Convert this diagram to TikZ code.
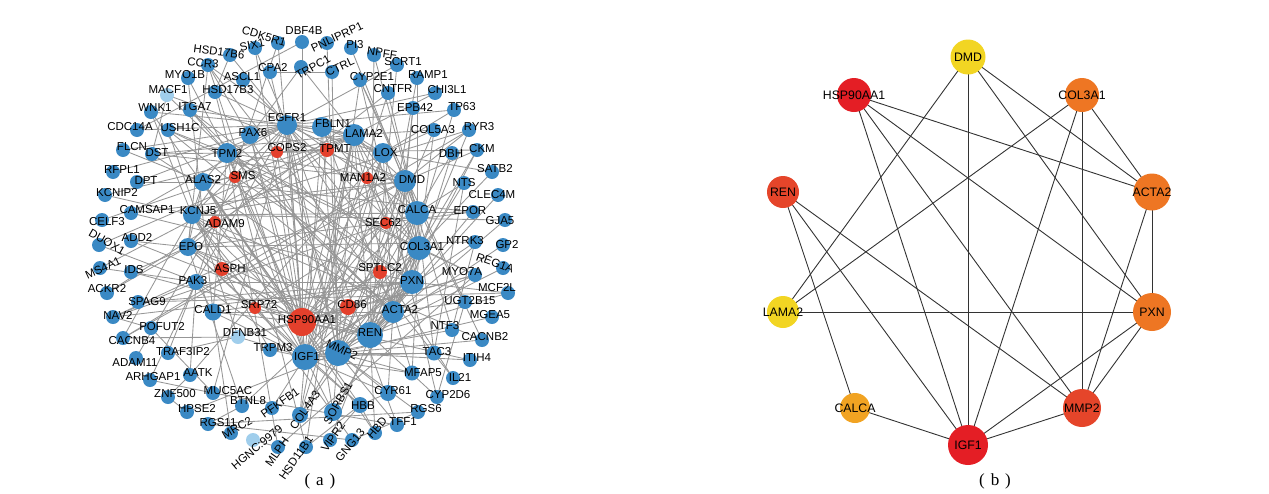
\documentclass[tikz,border=0pt]{standalone}
\usepackage{fontspec}
\setmainfont{Liberation Sans}
\newfontfamily\capfont{Liberation Serif}
\definecolor{nblue}{RGB}{58,137,196}
\definecolor{nred}{RGB}{228,64,44}
\definecolor{nlight}{RGB}{160,206,236}
\definecolor{egray}{RGB}{150,150,150}
\definecolor{byel}{RGB}{242,213,35}
\definecolor{bred}{RGB}{228,30,37}
\definecolor{bora}{RGB}{238,118,35}
\definecolor{brora}{RGB}{229,69,42}
\definecolor{bamb}{RGB}{241,163,34}
\pgfdeclarelayer{bg}
\pgfdeclarelayer{fg}
\pgfsetlayers{bg,main,fg}
\tikzset{
 nb/.style={circle,inner sep=0pt,minimum size=14,fill=nblue},
 nr/.style={circle,inner sep=0pt,minimum size=13,fill=nred},
 nl/.style={circle,inner sep=0pt,minimum size=14,fill=nlight},
 lbl/.style={inner sep=0pt,font=\fontsize{11.5}{13}\selectfont},
 edge/.style={draw=egray,line width=0.85},
 bedge/.style={draw=black!80,line width=0.9},
 bn/.style={circle,inner sep=0pt},
 blbl/.style={inner sep=0pt,font=\fontsize{12.3}{14}\selectfont},
 figcap/.style={inner sep=0pt,font=\capfont\fontsize{17}{19}\selectfont}
}
\newcommand\G[8]{\node[#4] (#1) at (#2,#3) {};
 \begin{pgfonlayer}{fg}\node[lbl,rotate=#7] (#1t) at (#5,#6) {#8};\end{pgfonlayer}}
\newcommand\B[6]{\node[bn,minimum size=#4,fill=#5] (#1) at (#2,#3) {};
 \begin{pgfonlayer}{fg}\node[blbl] (#1t) at (#2,#3) {#6};\end{pgfonlayer}}
\begin{document}
\begin{tikzpicture}[x=1pt,y=-1pt]
\path[use as bounding box] (0,0) rectangle (1269,493);
% ---------- (a) nodes ----------
\G{DBF4B}{302}{42}{nb}{304}{31}{0}{DBF4B}
\G{CDK5R1}{278}{43}{nb}{264}{36}{-17}{CDK5R1}
\G{PNLIPRP1}{327}{43}{nb}{337}{37}{25}{PNLIPRP1}
\G{SIX1}{255}{48}{nb}{252}{45}{12}{SIX1}
\G{HSD17B6}{230}{55}{nb}{219}{52}{-7}{HSD17B6}
\G{PI3}{351}{48}{nb}{355}{45}{0}{PI3}
\G{NPFF}{374}{55}{nb}{382}{53}{-8}{NPFF}
\G{CCR3}{208}{65}{nb}{203}{63}{-5}{CCR3}
\G{TRPC1}{301}{67}{nb}{313}{67}{30}{TRPC1}
\G{CTRL}{332}{72}{nb}{340}{67}{25}{CTRL}
\G{SCRT1}{397}{65}{nb}{403}{62}{0}{SCRT1}
\G{MYO1B}{188}{78}{nb}{185}{75}{0}{MYO1B}
\G{ASCL1}{243}{80}{nb}{242}{77}{0}{ASCL1}
\G{CPA2}{270}{72}{nb}{273}{68}{0}{CPA2}
\G{CYP2E1}{360}{80}{nb}{372}{77}{0}{CYP2E1}
\G{RAMP1}{417}{78}{nb}{428}{75}{0}{RAMP1}
\G{MACF1}{167}{95}{nl}{168}{90}{0}{MACF1}
\G{HSD17B3}{215}{92}{nb}{228}{90}{0}{HSD17B3}
\G{CNTFR}{388}{93}{nb}{393}{89}{0}{CNTFR}
\G{CHI3L1}{435}{93}{nb}{447}{90}{0}{CHI3L1}
\G{WNK1}{151}{112}{nb}{155}{108}{0}{WNK1}
\G{ITGA7}{190}{110}{nb}{195}{107}{0}{ITGA7}
\G{EPB42}{413}{108}{nb}{415}{107}{0}{EPB42}
\G{TP63}{454}{110}{nb}{462}{107}{0}{TP63}
\G{CDC14A}{137}{130}{nb}{130}{127}{0}{CDC14A}
\G{USH1C}{168}{130}{nb}{180}{128}{0}{USH1C}
\G{EGFR1}{287}{125}{nb,minimum size=20}{287}{118}{0}{EGFR1}
\G{FBLN1}{322}{127}{nb,minimum size=20}{333}{124}{0}{FBLN1}
\G{LAMA2}{354}{135}{nb,minimum size=22}{364}{133}{0}{LAMA2}
\G{COL5A3}{434}{130}{nb}{433}{130}{0}{COL5A3}
\G{RYR3}{469}{130}{nb}{479}{127}{0}{RYR3}
\G{PAX6}{250}{135}{nb,minimum size=18}{253}{133}{0}{PAX6}
\G{FLCN}{123}{150}{nb}{132}{147}{0}{FLCN}
\G{DST}{152}{154}{nb}{157}{153}{0}{DST}
\G{TPM2}{227}{153}{nb,minimum size=20}{227}{153}{0}{TPM2}
\G{COPS2}{277}{152}{nr,minimum size=12}{287}{148}{0}{COPS2}
\G{TPMT}{327}{150}{nr,minimum size=14}{335}{149}{0}{TPMT}
\G{LOX}{383}{153}{nb,minimum size=20}{386}{153}{0}{LOX}
\G{DBH}{452}{153}{nb}{451}{154}{0}{DBH}
\G{CKM}{477}{150}{nb}{482}{149}{0}{CKM}
\G{RFPL1}{113}{172}{nb}{122}{170}{0}{RFPL1}
\G{DPT}{137}{182}{nb}{146}{181}{0}{DPT}
\G{ALAS2}{203}{182}{nb,minimum size=18}{203}{180}{0}{ALAS2}
\G{SMS}{235}{177}{nr,minimum size=12}{243}{176}{0}{SMS}
\G{MAN1A2}{367}{178}{nr,minimum size=12}{363}{177}{0}{MAN1A2}
\G{DMD}{405}{181}{nb,minimum size=22}{412}{180}{0}{DMD}
\G{NTS}{464}{183}{nb}{464}{183}{0}{NTS}
\G{SATB2}{492}{172}{nb}{495}{169}{0}{SATB2}
\G{KCNIP2}{105}{195}{nb}{117}{193}{0}{KCNIP2}
\G{CAMSAP1}{131}{213}{nb}{147}{210}{0}{CAMSAP1}
\G{KCNJ5}{192}{215}{nb,minimum size=18}{198}{211}{0}{KCNJ5}
\G{CALCA}{417}{213}{nb,minimum size=24}{417}{210}{0}{CALCA}
\G{EPOR}{473}{212}{nb}{470}{211}{0}{EPOR}
\G{CLEC4M}{498}{195}{nb}{492}{195}{0}{CLEC4M}
\G{CELF3}{102}{220}{nb}{107}{222}{0}{CELF3}
\G{ADAM9}{215}{222}{nr,minimum size=12}{225}{224}{0}{ADAM9}
\G{SEC62}{386}{223}{nr,minimum size=12}{383}{223}{0}{SEC62}
\G{GJA5}{505}{220}{nb}{500}{221}{0}{GJA5}
\G{ADD2}{131}{241}{nb}{137}{237}{0}{ADD2}
\G{DUOX1}{99}{245}{nb}{107}{242}{-30}{DUOX1}
\G{EPO}{188}{247}{nb,minimum size=18}{191}{247}{0}{EPO}
\G{COL3A1}{419}{248}{nb,minimum size=24}{422}{247}{0}{COL3A1}
\G{NTRK3}{475}{242}{nb}{465}{241}{0}{NTRK3}
\G{GP2}{503}{245}{nb}{507}{245}{0}{GP2}
\G{MS4A1}{100}{268}{nb}{103}{268}{25}{MS4A1}
\G{IDS}{131}{272}{nb}{134}{270}{0}{IDS}
\G{PAK3}{196}{282}{nb,minimum size=16}{193}{281}{0}{PAK3}
\G{ASPH}{222}{269}{nr,minimum size=14}{230}{269}{0}{ASPH}
\G{SPTLC2}{380}{272}{nr,minimum size=14}{380}{268}{0}{SPTLC2}
\G{REG1A}{503}{268}{nb}{495}{263}{-20}{REG1A}
\G{ACKR2}{107}{293}{nb}{107}{289}{0}{ACKR2}
\G{MYO7A}{475}{275}{nb}{462}{272}{0}{MYO7A}
\G{PXN}{412}{282}{nb,minimum size=24}{412}{281}{0}{PXN}
\G{SPAG9}{138}{302}{nb}{147}{302}{0}{SPAG9}
\G{MCF2L}{508}{293}{nb}{497}{288}{0}{MCF2L}
\G{NAV2}{113}{317}{nb}{118}{315}{0}{NAV2}
\G{CALD1}{213}{312}{nb,minimum size=17}{213}{310}{0}{CALD1}
\G{SRP72}{255}{308}{nr,minimum size=12}{259}{305}{0}{SRP72}
\G{CD86}{348}{307}{nr,minimum size=16}{352}{305}{0}{CD86}
\G{ACTA2}{393}{312}{nb,minimum size=22}{400}{310}{0}{ACTA2}
\G{UGT2B15}{465}{302}{nb}{470}{301}{0}{UGT2B15}
\G{POFUT2}{151}{328}{nb}{162}{327}{0}{POFUT2}
\G{HSP90AA1}{302}{322}{nr,minimum size=28}{307}{320}{0}{HSP90AA1}
\G{DFNB31}{238}{337}{nl}{245}{333}{0}{DFNB31}
\G{REN}{370}{335}{nb,minimum size=26}{370}{333}{0}{REN}
\G{MGEA5}{492}{317}{nb}{490}{315}{0}{MGEA5}
\G{CACNB4}{123}{338}{nb}{132}{341}{0}{CACNB4}
\G{TRAF3IP2}{168}{353}{nb}{183}{352}{0}{TRAF3IP2}
\G{TRPM3}{270}{350}{nb}{273}{348}{0}{TRPM3}
\G{IGF1}{305}{357}{nb,minimum size=26}{307}{357}{0}{IGF1}
\G{MMP2}{338}{353}{nb,minimum size=26}{342}{350}{-25}{MMP2}
\G{NTF3}{452}{330}{nb}{445}{326}{0}{NTF3}
\G{CACNB2}{482}{340}{nb}{485}{337}{0}{CACNB2}
\G{ADAM11}{136}{358}{nb}{135}{363}{0}{ADAM11}
\G{ARHGAP1}{150}{380}{nb}{153}{377}{0}{ARHGAP1}
\G{AATK}{190}{375}{nb}{198}{373}{0}{AATK}
\G{TAC3}{434}{353}{nb,minimum size=15}{437}{352}{0}{TAC3}
\G{ITIH4}{470}{360}{nb}{477}{358}{0}{ITIH4}
\G{MFAP5}{412}{373}{nb,minimum size=15}{423}{373}{0}{MFAP5}
\G{IL21}{453}{378}{nb}{460}{377}{0}{IL21}
\G{ZNF500}{168}{397}{nb}{175}{394}{0}{ZNF500}
\G{MUC5AC}{213}{393}{nb}{228}{391}{0}{MUC5AC}
\G{BTNL8}{242}{406}{nb}{248}{401}{0}{BTNL8}
\G{CYR61}{388}{393}{nb,minimum size=16}{393}{391}{0}{CYR61}
\G{CYP2D6}{437}{397}{nb}{448}{395}{0}{CYP2D6}
\G{HPSE2}{187}{412}{nb}{197}{409}{0}{HPSE2}
\G{RGS11}{208}{424}{nb}{218}{423}{0}{RGS11}
\G{PFKFB1}{272}{408}{nb}{280}{403}{35}{PFKFB1}
\G{HBB}{360}{405}{nb,minimum size=16}{363}{406}{0}{HBB}
\G{RGS6}{418}{412}{nb}{426}{409}{0}{RGS6}
\G{MRC2}{231}{433}{nb}{237}{428}{30}{MRC2}
\G{HGNC}{253}{440}{nl}{257}{447}{40}{HGNC:9979}
\G{MLPH}{278}{447}{nb}{277}{452}{55}{MLPH}
\G{COL4A3}{300}{415}{nb,minimum size=16}{305}{410}{55}{COL4A3}
\G{SORBS1}{333}{412}{nb,minimum size=18}{338}{403}{60}{SORBS1}
\G{HSD11B1}{306}{447}{nb}{296}{458}{55}{HSD11B1}
\G{VIPR2}{330}{440}{nb}{333}{437}{55}{VIPR2}
\G{GNG13}{352}{440}{nb}{350}{445}{50}{GNG13}
\G{HBD}{375}{433}{nb}{377}{428}{50}{HBD}
\G{TFF1}{397}{425}{nb}{403}{422}{0}{TFF1}
% ---------- (a) edges ----------
\begin{pgfonlayer}{bg}
\foreach \b in {HSP90AA1,MMP2,REN,ACTA2,PXN,COL3A1,CALCA,DMD,LAMA2,EGFR1,EPO,KCNJ5,ALAS2,TPM2,PAK3,CALD1,CYR61,HBB,SORBS1,COL4A3,TAC3,MFAP5,NTF3,LOX,FBLN1,TRPM3,PFKFB1,CCR3,SIX1,PAX6}
 \draw[edge] (IGF1.center) -- (\b.center);
\foreach \b in {MMP2,REN,ACTA2,PXN,COL3A1,CALCA,DMD,LAMA2,EGFR1,TPM2,PAX6,CALD1,SRP72,CD86,ASPH,SPTLC2,SEC62,TPMT,COPS2,SMS,ADAM9,MAN1A2,PAK3,KCNJ5,ALAS2,EPO,CDK5R1,MYO7A,WNK1,TRAF3IP2}
 \draw[edge] (HSP90AA1.center) -- (\b.center);
\foreach \b in {REN,ACTA2,PXN,COL3A1,FBLN1,LAMA2,LOX,COL5A3,COL4A3,CYR61,MFAP5,TFF1,EGFR1,CALCA,DMD,HPSE2,CD86,SORBS1,TAC3,ITIH4,CACNB2,MGEA5,RGS6,CTRL,PNLIPRP1,CPA2}
 \draw[edge] (MMP2.center) -- (\b.center);
\foreach \b in {ACTA2,PXN,CALCA,COL3A1,DMD,LAMA2,EPO,KCNJ5,RAMP1,NTS,EPOR,GJA5,CLEC4M,GP2,REG1A,MCF2L,CYP2D6,HBD,NPFF,SCRT1,ADD2,IDS}
 \draw[edge] (REN.center) -- (\b.center);
\foreach \b in {PXN,COL3A1,CALCA,DMD,LAMA2,TPM2,CALD1,MYO7A,ITGA7,DST,MACF1,EPB42,FBLN1,LOX,CKM,RYR3,TP63,UGT2B15,MFAP5,CYR61,SORBS1,USH1C}
 \draw[edge] (ACTA2.center) -- (\b.center);
\foreach \b in {COL3A1,CALCA,DMD,LAMA2,EGFR1,PAK3,TPM2,CALD1,ITGA7,SORBS1,CAMSAP1,SPAG9,NAV2,MCF2L,DBH}
 \draw[edge] (PXN.center) -- (\b.center);
\foreach \b in {CALCA,DMD,LAMA2,FBLN1,LOX,COL5A3,COL4A3,MFAP5,EGFR1,SATB2,CKM}
 \draw[edge] (COL3A1.center) -- (\b.center);
\foreach \b in {DMD,RAMP1,NPFF,TAC3,NTS,DBH,CNTFR,NTF3,EPOR,CCR3,TRPC1,PI3,VIPR2,NAV2}
 \draw[edge] (CALCA.center) -- (\b.center);
\foreach \b in {LAMA2,EGFR1,CKM,RYR3,TPM2,DST,MACF1,EPB42,CAMSAP1,KCNJ5,CACNB4,CACNB2,NAV2,CYP2E1}
 \draw[edge] (DMD.center) -- (\b.center);
\foreach \b in {FBLN1,LOX,COL5A3,COL4A3,ITGA7,EGFR1,DST,CELF3,MS4A1,DUOX1,KCNIP2,ACKR2,CHI3L1}
 \draw[edge] (LAMA2.center) -- (\b.center);
\foreach \b in {FBLN1,COL5A3,COL4A3,EGFR1,SATB2,TP63,AATK}
 \draw[edge] (LOX.center) -- (\b.center);
\foreach \b in {PAX6,EPO,KCNJ5,TPM2,FBLN1,SIX1,ASCL1,CDC14A,FLCN,RFPL1,DPT,CAMSAP1,SCRT1,HSD17B3,HSD17B6,TP63,WNK1,CHI3L1,SORBS1,TFF1,MUC5AC,IL21}
 \draw[edge] (EGFR1.center) -- (\b.center);
\foreach \b in {ALAS2,CALD1,ITGA7,MYO1B,MYO7A,USH1C,DST,MLPH,CKM}
 \draw[edge] (TPM2.center) -- (\b.center);
\foreach \b in {EPO,HBB,HBD,EPOR,KCNJ5,SMS,FLCN,DPT}
 \draw[edge] (ALAS2.center) -- (\b.center);
\foreach \b in {EPOR,HBB,KCNJ5,NTRK3,IDS,ADD2,ACKR2,CCR3,CD86,BTNL8,CNTFR}
 \draw[edge] (EPO.center) -- (\b.center);
\foreach \b in {CALCA,KCNIP2,CACNB4,CACNB2,TRPM3,TRPC1,GJA5,RYR3,GNG13,WNK1}
 \draw[edge] (KCNJ5.center) -- (\b.center);
\foreach \b in {CALD1,EGFR1,NAV2,TRAF3IP2,ARHGAP1,AATK,MS4A1,DUOX1,CDK5R1}
 \draw[edge] (PAK3.center) -- (\b.center);
\foreach \a/\b in {CALD1/MYO1B,CALD1/MRC2,HBB/HBD,HBB/CYR61,HBB/HSD11B1,HBB/VIPR2,HSD17B3/HSD17B6,HSD11B1/HSD17B3,HSD11B1/CYP2E1,CYP2E1/CYP2D6,UGT2B15/CYP2D6,UGT2B15/CYP2E1,POFUT2/MUC5AC,POFUT2/NAV2,ZNF500/HPSE2,RGS11/RGS6,RGS11/GNG13,RGS6/GNG13,CACNB4/DFNB31,CACNB4/RYR3,DFNB31/USH1C,DFNB31/MYO7A,USH1C/MYO7A,DST/MACF1,NTF3/NTRK3,TAC3/NTS,CD86/CCR3,IL21/CCR3,MUC5AC/TFF1,BTNL8/CD86,HGNC/MLPH,MLPH/MYO7A,ADAM11/ADAM9,ADAM9/ASPH,SPTLC2/SMS,SRP72/SEC62,MAN1A2/SEC62,COPS2/TPMT,ZNF500/AATK,ARHGAP1/MUC5AC,RGS11/BTNL8,CPA2/CTRL,SPAG9/MCF2L,DBF4B/CDC14A,DBF4B/HSP90AA1,ITIH4/HSP90AA1,CNTFR/IGF1,DFNB31/IGF1,NTRK3/IGF1}
 \draw[edge] (\a.center) -- (\b.center);
\end{pgfonlayer}
\node[figcap] (capa) at (320,481) {(\hspace{0.35em}a\hspace{0.35em})};
% ---------- (b) ----------
\B{bDMD}{968}{57}{35}{byel}{DMD}
\B{bHSP}{854}{95}{34}{bred}{HSP90AA1}
\B{bCOL}{1082}{95}{34}{bora}{COL3A1}
\B{bREN}{783}{192}{32}{brora}{REN}
\B{bACTA}{1152}{192}{37}{bora}{ACTA2}
\B{bLAMA}{783}{312}{32}{byel}{LAMA2}
\B{bPXN}{1152}{312}{38}{bora}{PXN}
\B{bCALCA}{855}{408}{30}{bamb}{CALCA}
\B{bMMP}{1082}{408}{38}{brora}{MMP2}
\B{bIGF}{968}{445}{40}{bred}{IGF1}
\begin{pgfonlayer}{bg}
\foreach \a/\b in {bDMD/bLAMA,bDMD/bIGF,bDMD/bACTA,bDMD/bPXN,bHSP/bACTA,bHSP/bPXN,bHSP/bMMP,bHSP/bIGF,bCOL/bLAMA,bCOL/bIGF,bCOL/bMMP,bCOL/bACTA,bREN/bCALCA,bREN/bIGF,bREN/bMMP,bLAMA/bPXN,bACTA/bPXN,bACTA/bMMP,bPXN/bMMP,bPXN/bIGF,bCALCA/bIGF,bMMP/bIGF}
 \draw[bedge] (\a.center) -- (\b.center);
\end{pgfonlayer}
\node[figcap] (capb) at (995,481) {(\hspace{0.35em}b\hspace{0.35em})};
\end{tikzpicture}
\end{document}
